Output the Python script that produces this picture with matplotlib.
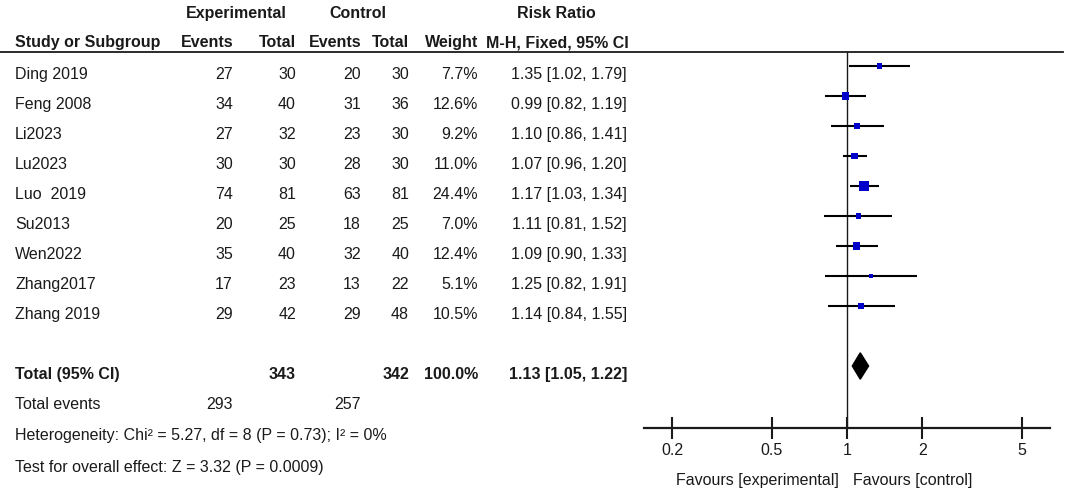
import numpy as np
import matplotlib
matplotlib.use("Agg")
import matplotlib.pyplot as plt

studies = ["Ding 2019", "Feng 2008", "Li2023", "Lu2023", "Luo  2019",
           "Su2013", "Wen2022", "Zhang2017", "Zhang 2019"]
exp_events = [27, 34, 27, 30, 74, 20, 35, 17, 29]
exp_total = [30, 40, 32, 30, 81, 25, 40, 23, 42]
ctl_events = [20, 31, 23, 28, 63, 18, 32, 13, 29]
ctl_total = [30, 36, 30, 30, 81, 25, 40, 22, 48]
weight = [7.7, 12.6, 9.2, 11.0, 24.4, 7.0, 12.4, 5.1, 10.5]
rr = [1.35, 0.99, 1.10, 1.07, 1.17, 1.11, 1.09, 1.25, 1.14]
rr_lo = [1.02, 0.82, 0.86, 0.96, 1.03, 0.81, 0.90, 0.82, 0.84]
rr_hi = [1.79, 1.19, 1.41, 1.20, 1.34, 1.52, 1.33, 1.91, 1.55]

total_exp, total_ctl = 343, 342
total_weight = "100.0%"
events_exp, events_ctl = 293, 257
pooled = (1.13, 1.05, 1.22)
het_text = "Heterogeneity: Chi\u00b2 = 5.27, df = 8 (P = 0.73); I\u00b2 = 0%"
test_text = "Test for overall effect: Z = 3.32 (P = 0.0009)"
ticks = [0.2, 0.5, 1, 2, 5]
tick_labels = ["0.2", "0.5", "1", "2", "5"]

plt.rcParams["font.family"] = ["Liberation Sans", "DejaVu Sans"]
fs = 11.5
col = "#1a1a1a"

W, H = 1065, 491
fig = plt.figure(figsize=(W / 100, H / 100), dpi=100)

# text layer: x in pixels, y in row units (row i sits at pixel 66 + 30*i)
def row_of(px):
    return (px - 66) / 30.0

tx = fig.add_axes([0, 0, 1, 1])
tx.set_xlim(0, W)
tx.set_ylim(row_of(H), row_of(0))
tx.axis("off")

off = 0.43
x_name = 15
x_ee, x_et, x_ce, x_ct, x_w, x_rr = 233, 296, 361, 409, 478, 627

# headers
hb = dict(fontsize=fs, fontweight="bold", color=col, va="baseline")
tx.text(236, -1.6, "Experimental", ha="center", **hb)
tx.text(358, -1.6, "Control", ha="center", **hb)
tx.text(556, -1.6, "Risk Ratio", ha="center", **hb)
tx.text(x_name, -0.62, "Study or Subgroup", ha="left", **hb)
tx.text(x_ee, -0.62, "Events", ha="right", **hb)
tx.text(x_et, -0.62, "Total", ha="right", **hb)
tx.text(x_ce, -0.62, "Events", ha="right", **hb)
tx.text(x_ct, -0.62, "Total", ha="right", **hb)
tx.text(x_w, -0.62, "Weight", ha="right", **hb)
tx.text(x_rr + 2, -0.62, "M-H, Fixed, 95% CI", ha="right", **hb)
tx.plot([0, 1063], [row_of(52), row_of(52)], color=col, lw=1.3)

nt = dict(fontsize=fs, color=col, va="baseline")
for i, s in enumerate(studies):
    y = i + off
    tx.text(x_name, y, s, ha="left", **nt)
    tx.text(x_ee, y, str(exp_events[i]), ha="right", **nt)
    tx.text(x_et, y, str(exp_total[i]), ha="right", **nt)
    tx.text(x_ce, y, str(ctl_events[i]), ha="right", **nt)
    tx.text(x_ct, y, str(ctl_total[i]), ha="right", **nt)
    tx.text(x_w, y, f"{weight[i]:.1f}%", ha="right", **nt)
    tx.text(x_rr, y, f"{rr[i]:.2f} [{rr_lo[i]:.2f}, {rr_hi[i]:.2f}]", ha="right", **nt)

tr = len(studies) + 1
tx.text(x_name, tr + off, "Total (95% CI)", ha="left", **hb)
tx.text(x_et, tr + off, str(total_exp), ha="right", **hb)
tx.text(x_ct, tr + off, str(total_ctl), ha="right", **hb)
tx.text(x_w, tr + off, total_weight, ha="right", **hb)
tx.text(x_rr, tr + off, f"{pooled[0]:.2f} [{pooled[1]:.2f}, {pooled[2]:.2f}]", ha="right", **hb)
tx.text(x_name, tr + 1 + off, "Total events", ha="left", **nt)
tx.text(x_ee, tr + 1 + off, str(events_exp), ha="right", **nt)
tx.text(x_ce, tr + 1 + off, str(events_ctl), ha="right", **nt)
tx.text(x_name, tr + 2 + off + 0.05, het_text, ha="left", **nt)
tx.text(x_name, tr + 3 + off + 0.1, test_text, ha="left", **nt)

# forest panel
ax_l, ax_r, ax_t, ax_b = 644, 1050, 52, 428
ax = fig.add_axes([ax_l / W, 1 - ax_b / H, (ax_r - ax_l) / W, (ax_b - ax_t) / H])
ax.patch.set_alpha(0)
ax.set_xscale("log")
ax.set_xlim(1 / 6.49, 6.49)
ax.set_ylim(row_of(ax_b), row_of(ax_t))
for sp in ["top", "left", "right"]:
    ax.spines[sp].set_visible(False)
ax.spines["bottom"].set_linewidth(1.6)
ax.spines["bottom"].set_color(col)
ax.set_xticks(ticks)
ax.set_xticklabels(tick_labels)
ax.xaxis.set_minor_locator(matplotlib.ticker.NullLocator())
ax.tick_params(axis="x", direction="inout", length=16, width=1.5, color=col,
               labelsize=fs, labelcolor=col, pad=3)
ax.set_yticks([])
ax.axvline(1, color=col, lw=1.0)

rows = np.arange(len(studies))
ax.hlines(rows, rr_lo, rr_hi, color="black", lw=1.5)
side_px = 2.0 * np.sqrt(np.array(weight))
ax.scatter(rr, rows, marker="s", s=(side_px * 0.72) ** 2, color="#0000c8",
           edgecolors="none", zorder=3)

d_h = 0.44
ax.fill([pooled[1], pooled[0], pooled[2], pooled[0]],
        [tr, tr - d_h, tr, tr + d_h], color="black", zorder=3)

fig.text(839 / W, 1 - 480 / H, "Favours [experimental]", ha="right", va="center",
         fontsize=fs, color=col)
fig.text(853 / W, 1 - 480 / H, "Favours [control]", ha="left", va="center",
         fontsize=fs, color=col)

fig.savefig("out.png", dpi=100)
